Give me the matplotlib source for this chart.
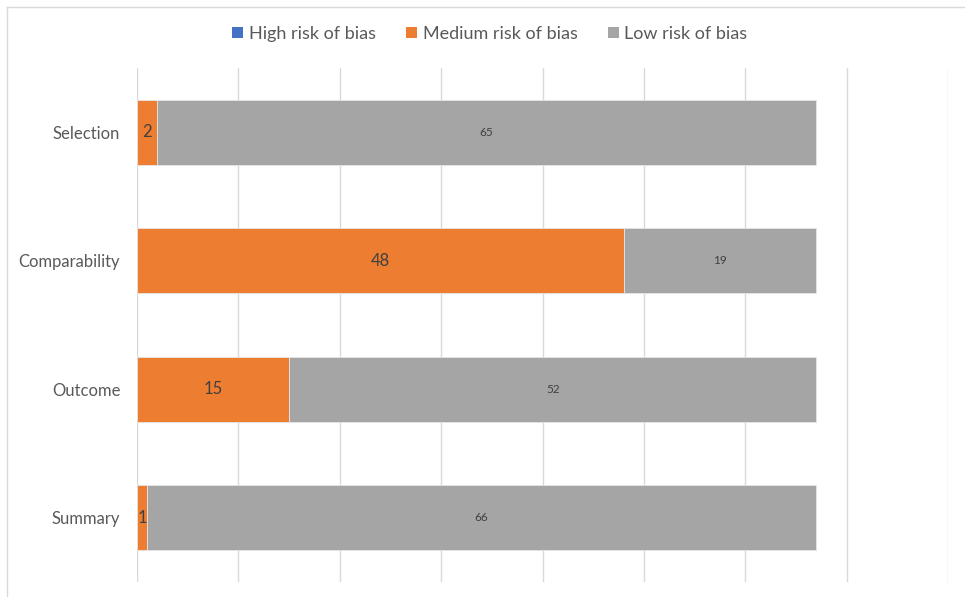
import matplotlib.pyplot as plt
from matplotlib.lines import Line2D
from matplotlib.patches import Patch

plt.rcParams['font.family'] = ['Lato', 'DejaVu Sans']

categories = ['Selection', 'Comparability', 'Outcome', 'Summary']
high_risk = [0, 0, 0, 0]
medium_risk = [2, 48, 15, 1]
low_risk = [65, 19, 52, 66]

series_names = ['High risk of bias', 'Medium risk of bias', 'Low risk of bias']
colors = ['#4472C4', '#ED7D31', '#A5A5A5']

fig = plt.figure(figsize=(9.65, 5.97), dpi=100)
ax = fig.add_axes([137 / 965, 1 - 582 / 597, (948 - 137) / 965, (582 - 68) / 597])

y = list(range(len(categories)))
bar_h = 0.505
left = [0] * len(categories)
for vals, col in zip([high_risk, medium_risk, low_risk], colors):
    ax.barh(y, vals, left=left, height=bar_h, color=col, edgecolor='#E6E6E6',
            linewidth=0.6, zorder=3)
    left = [a + b for a, b in zip(left, vals)]

# data labels
for i in y:
    m = medium_risk[i]
    l = low_risk[i]
    h = high_risk[i]
    if m > 0:
        ax.text(h + m / 2, i, str(m), ha='center', va='center', fontsize=12,
                color='#404040', zorder=4)
    if l > 0:
        ax.text(h + m + l / 2, i, str(l), ha='center', va='center', fontsize=8.5,
                color='#404040', zorder=4)

ax.set_xlim(0, 80)
ax.set_ylim(3.5, -0.5)
ax.set_xticks(range(0, 81, 10))
ax.set_xticklabels([])
ax.set_yticks(y)
ax.set_yticklabels(categories, fontsize=12, color='#595959')
ax.tick_params(axis='both', length=0)
ax.tick_params(axis='y', pad=12)
ax.grid(axis='x', color='#D9D9D9', linewidth=1, zorder=0)
for s in ax.spines.values():
    s.set_visible(False)

handles = [Patch(facecolor=c, edgecolor='none') for c in colors]
fig.legend(handles, series_names, loc='center', bbox_to_anchor=(490 / 965, 1 - 34 / 597),
           ncol=3, frameon=False, fontsize=13, handlelength=0.6, handleheight=0.6,
           handletextpad=0.3, columnspacing=1.7, labelcolor='#595959')

# chart frame (left and top edges)
fig.add_artist(Line2D([7 / 965, 7 / 965], [0, 1 - 7 / 597], color='#D9D9D9', lw=1))
fig.add_artist(Line2D([7 / 965, 1], [1 - 7 / 597, 1 - 7 / 597], color='#D9D9D9', lw=1))

fig.savefig('out.png', dpi=100, facecolor='white')
